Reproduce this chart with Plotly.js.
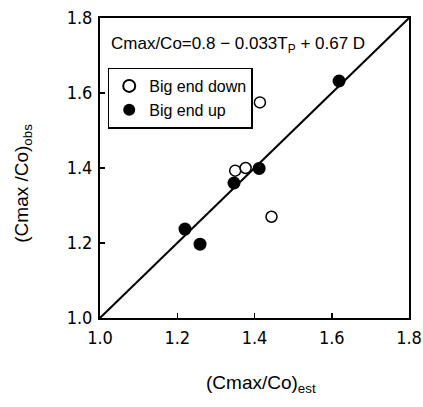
<!DOCTYPE html>
<html><head><meta charset="utf-8">
<script src="https://cdn.plot.ly/plotly-3.0.1.min.js"></script>
<style>html,body{margin:0;padding:0;background:#fff}#c{width:423px;height:407px}</style>
</head><body><div id="c"></div>
<script>
const downEst = [1.350, 1.377, 1.414, 1.444];
const downObs = [1.393, 1.400, 1.575, 1.270];
const upEst = [1.220, 1.259, 1.347, 1.412, 1.619];
const upObs = [1.237, 1.197, 1.360, 1.399, 1.632];
const lineX = [1.0, 1.8];
const lineY = [1.0, 1.8];
const tickVals = [1.0, 1.2, 1.4, 1.6, 1.8];
const tickText = ["1.0", "1.2", "1.4", "1.6", "1.8"];
const equation = "Cmax/Co=0.8 − 0.033T<sub>P</sub> + 0.67 D";

const fam = "Liberation Sans, Arial, sans-serif";
const traces = [
  {x: lineX, y: lineY, mode: "lines", line: {color: "#000", width: 2}, showlegend: false, hoverinfo: "skip"},
  {x: downEst, y: downObs, mode: "markers", name: "Big end down",
   marker: {symbol: "circle", size: 11, color: "#fff", line: {color: "#000", width: 1.5}}},
  {x: upEst, y: upObs, mode: "markers", name: "Big end up",
   marker: {symbol: "circle", size: 13, color: "#000", line: {color: "#000", width: 0}}}
];
const axisCommon = {
  range: [1.0, 1.8], tickvals: tickVals, ticktext: tickText,
  ticks: "inside", ticklen: 5, tickwidth: 1.5, tickcolor: "#000",
  showline: true, linecolor: "#000", linewidth: 2, mirror: true,
  showgrid: false, zeroline: false,
  tickfont: {family: "DejaVu Sans Condensed, DejaVu Sans, sans-serif", size: 18, color: "#000"}
};
const layout = {
  width: 423, height: 407,
  margin: {l: 100, r: 14, t: 18, b: 89},
  paper_bgcolor: "#fff", plot_bgcolor: "#fff",
  font: {family: fam, color: "#000"},
  xaxis: Object.assign({}, axisCommon, {ticklabelstandoff: 2}),
  yaxis: Object.assign({}, axisCommon, {ticklabelstandoff: 2}),
  showlegend: true,
  legend: {x: 0.025, y: 0.835, xanchor: "left", yanchor: "top",
    bordercolor: "#000", borderwidth: 1.5, bgcolor: "#fff",
    font: {family: fam, size: 16, color: "#000"}, tracegroupgap: 0, itemsizing: "constant"},
  annotations: [
    {text: equation, xref: "paper", yref: "paper", x: 0.03, y: 0.91, xanchor: "left", yanchor: "middle",
     showarrow: false, font: {family: fam, size: 17, color: "#000"}},
    {text: "(Cmax/Co)<sub>est</sub>", xref: "paper", yref: "paper", x: 0.52, y: -0.22, xanchor: "center", yanchor: "middle",
     showarrow: false, font: {family: fam, size: 19, color: "#000"}},
    {text: "(Cmax /Co)<sub>obs</sub>", xref: "paper", yref: "paper", x: -0.25, y: 0.45, xanchor: "center", yanchor: "middle",
     textangle: -90, showarrow: false, font: {family: fam, size: 19, color: "#000"}}
  ]
};
Plotly.newPlot("c", traces, layout, {displayModeBar: false, staticPlot: true});
</script></body></html>
